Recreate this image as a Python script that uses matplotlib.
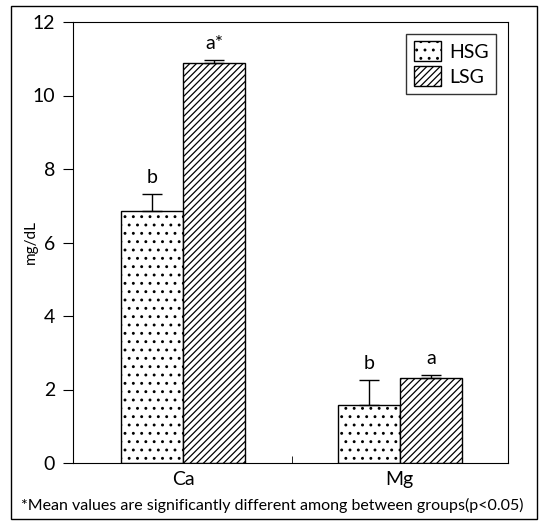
import matplotlib
matplotlib.use("Agg")
import matplotlib.pyplot as plt
from matplotlib.patches import Rectangle

plt.rcParams['font.family'] = ['Lato', 'DejaVu Sans']
plt.rcParams['hatch.linewidth'] = 0.9

# data
categories = ["Ca", "Mg"]
groups = ["HSG", "LSG"]
hsg_vals = [6.86, 1.58]
hsg_err = [0.45, 0.68]
lsg_vals = [10.88, 2.31]
lsg_err = [0.08, 0.08]
hsg_letters = ["b", "b"]
lsg_letters = ["a*", "a"]

fig = plt.figure(figsize=(5.45, 5.25), dpi=100)
# outer frame
fig.patches.append(Rectangle((11 / 545, 6 / 525), 526 / 545, 513 / 525, transform=fig.transFigure,
                             fill=False, edgecolor='black', linewidth=1.0))

ax = fig.add_axes([73 / 545, 62 / 525, 435 / 545, 441 / 525])

x = [0, 1]
w = 0.287
ax.bar([i - w / 2 for i in x], hsg_vals, w, color='white', edgecolor='black', hatch='..',
       linewidth=1.0, label=groups[0])
ax.bar([i + w / 2 for i in x], lsg_vals, w, color='white', edgecolor='black', hatch='/////',
       linewidth=1.0, label=groups[1])
ax.errorbar([i - w / 2 for i in x], hsg_vals, yerr=[[0, 0], hsg_err], fmt='none', ecolor='black',
            elinewidth=1.0, capsize=7)
ax.errorbar([i + w / 2 for i in x], lsg_vals, yerr=[[0, 0], lsg_err], fmt='none', ecolor='black',
            elinewidth=1.0, capsize=7)

for i in x:
    ax.text(i - w / 2, hsg_vals[i] + hsg_err[i] + 0.22, hsg_letters[i], ha='center', va='bottom', fontsize=14)
    ax.text(i + w / 2, lsg_vals[i] + lsg_err[i] + 0.22, lsg_letters[i], ha='center', va='bottom', fontsize=14)

ax.set_xlim(-0.51, 1.5)
ax.set_ylim(0, 12)
ax.set_yticks([0, 2, 4, 6, 8, 10, 12])
ax.set_xticks(x)
ax.set_xticklabels(categories, fontsize=14)
ax.set_xticks([0.5], minor=True)
ax.tick_params(axis='x', which='major', length=0, pad=6)
ax.tick_params(axis='x', which='minor', direction='in', length=5)
ax.tick_params(axis='y', direction='out', length=7, labelsize=14, pad=6)
ax.set_ylabel("mg/dL", fontsize=11)
ax.yaxis.set_label_coords(-0.08, 0.5)

leg = ax.legend(loc='upper right', fontsize=14, frameon=True, fancybox=False, edgecolor='black',
                handlelength=1.4, handleheight=1.2, borderaxespad=0.6, labelspacing=0.25,
                handletextpad=0.4, borderpad=0.4)
leg.get_frame().set_linewidth(1.0)

fig.text(272 / 545, 1 - 505 / 525, "*Mean values are significantly different among between groups(p<0.05)",
         ha='center', va='center', fontsize=11.5)

fig.savefig("out.png", dpi=100)
